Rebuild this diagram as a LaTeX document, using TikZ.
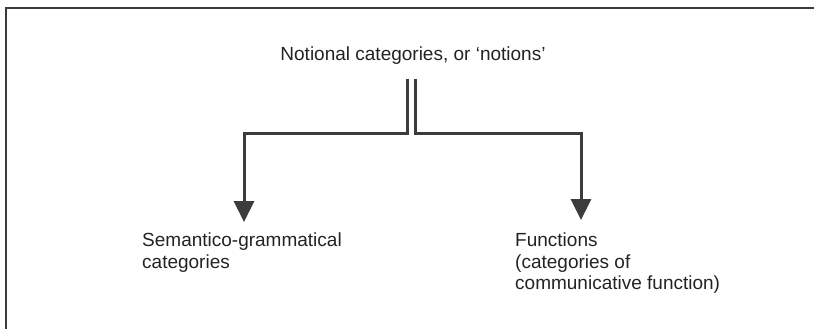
\documentclass[tikz,border=0pt]{standalone}
\usepackage{fontspec}
\setmainfont{Liberation Sans}
\usetikzlibrary{arrows.meta}
\begin{document}
\begin{tikzpicture}[x=1pt,y=-1pt]
    \definecolor{myline}{RGB}{60,60,60}
    \definecolor{mytext}{RGB}{35,35,35}
    \tikzset{
        branch/.style={myline, line width=3pt, line join=miter},
        catlabel/.style={text=mytext, font=\fontsize{19}{21.5}\selectfont, align=left, inner sep=0pt}
    }

    \useasboundingbox (0,0) rectangle (814,329);
    \draw[myline, line width=1.5pt] (814,8) -- (6,8) -- (6,329);

    \node[catlabel, anchor=base] (notions) at (413,61) {Notional categories, or `notions'};
    \node[catlabel, anchor=north west] (semgram) at (142,233) {Semantico-grammatical\\categories};
    \node[catlabel, anchor=north west] (functions) at (515,233) {Functions\\(categories of\\communicative function)};

    \coordinate (lstart) at (407,79);
    \coordinate (rstart) at (415,79);
    \coordinate (ltip) at (244,222);
    \coordinate (rtip) at (581,220);

    \draw[branch, -{Triangle[width=20pt,length=21pt]}] (lstart) |- (ltip |- 0,133) -- (ltip);
    \draw[branch, -{Triangle[width=20pt,length=21pt]}] (rstart) |- (rtip |- 0,133) -- (rtip);
\end{tikzpicture}
\end{document}
